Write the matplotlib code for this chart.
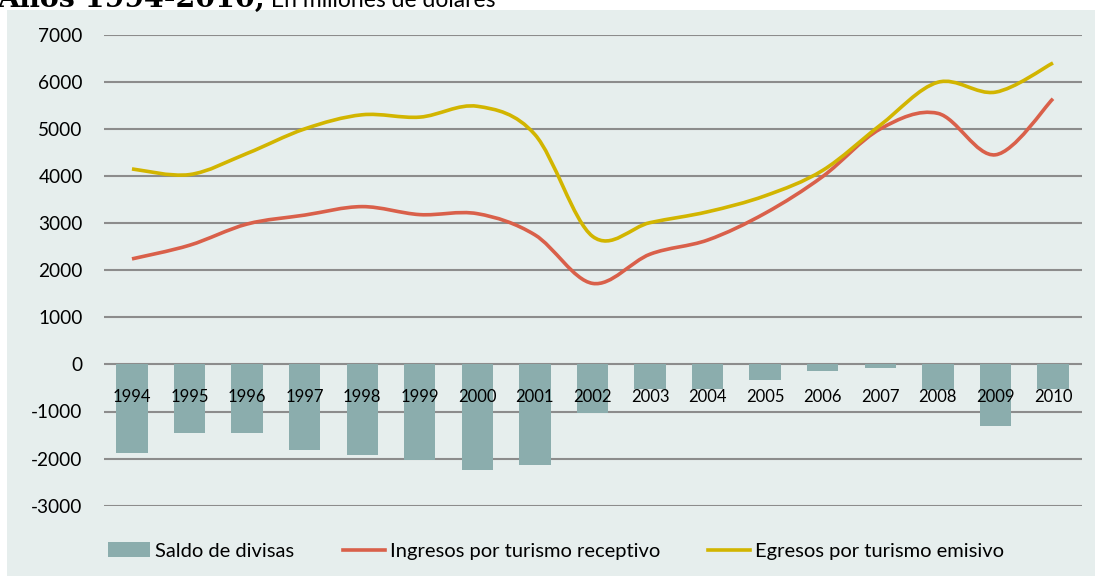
import matplotlib
matplotlib.use("Agg")
import matplotlib.pyplot as plt
from matplotlib.path import Path
from matplotlib.patches import PathPatch, Rectangle, Patch
from matplotlib.lines import Line2D

# ---------------- data ----------------
years = ["1994", "1995", "1996", "1997", "1998", "1999", "2000", "2001", "2002",
         "2003", "2004", "2005", "2006", "2007", "2008", "2009", "2010"]
saldo = [-1890, -1464, -1464, -1812, -1925, -2032, -2246, -2139, -1034,
         -520, -530, -327, -142, -71, -540, -1315, -520]
ingresos = [2240, 2530, 2980, 3170, 3350, 3180, 3200, 2750, 1720,
            2340, 2640, 3210, 3990, 5000, 5330, 4450, 5640]
egresos = [4150, 4030, 4480, 5000, 5300, 5250, 5480, 4880, 2720,
           3010, 3240, 3580, 4120, 5080, 5990, 5780, 6400]
yticks = [-3000, -2000, -1000, 0, 1000, 2000, 3000, 4000, 5000, 6000, 7000]
legend_labels = ["Saldo de divisas", "Ingresos por turismo receptivo",
                 "Egresos por turismo emisivo"]
title_bold = "Años 1994-2010,"
title_rest = " En millones de dólares"

# ---------------- style ----------------
BG = "#E6EEED"
BAR = "#8BADAD"
RED = "#D9604A"
YEL = "#D2B500"
GRID = "#8C8C8C"
FONT = ["Lato", "DejaVu Sans"]
plt.rcParams["font.family"] = FONT

W, H = 1095, 576
fig = plt.figure(figsize=(W / 100, H / 100), dpi=100, facecolor="white")
fig.add_artist(Rectangle((7 / W, 0), 1, 1 - 10 / H, transform=fig.transFigure,
                         facecolor=BG, edgecolor="none", zorder=0))

# title (partially cut at top, as in the reference)
t1 = fig.text(-3 / W, 1 - 6.7 / H, title_bold, family="DejaVu Serif",
              weight="bold", fontsize=20.5, va="baseline", ha="left")
fig.canvas.draw()
bb = t1.get_window_extent()
fig.text(bb.x1 / W, 1 - 6.7 / H, title_rest, fontsize=16.5,
         va="baseline", ha="left", family=FONT)

left, right = 104 / W, 1082 / W
bottom, top = 1 - 505.7 / H, 1 - 34.7 / H
ax = fig.add_axes([left, bottom, right - left, top - bottom])
ax.set_facecolor("none")
x = list(range(len(years)))
ax.set_xlim(-0.486, 16.504)
ax.set_ylim(-3000, 7000)
for s in ax.spines.values():
    s.set_visible(False)
ax.set_yticks(yticks)
ax.set_yticklabels([str(v) for v in yticks])
ax.tick_params(axis="y", length=0, pad=15.3, labelsize=13.7, colors="black")
ax.set_xticks([])
for v in yticks:
    ax.axhline(v, color=GRID, lw=1.5, zorder=1)

ax.bar(x, saldo, width=0.545, color=BAR, zorder=2)

for i, yr in enumerate(years):
    ax.annotate(yr, xy=(i, 0), xytext=(0, -27.1), textcoords="offset points",
                ha="center", va="baseline", fontsize=12, zorder=5)


def smooth_path(xs, ys):
    n = len(xs)
    verts = [(xs[0], ys[0])]
    codes = [Path.MOVETO]
    for i in range(n - 1):
        p0 = (xs[max(i - 1, 0)], ys[max(i - 1, 0)])
        p1 = (xs[i], ys[i])
        p2 = (xs[i + 1], ys[i + 1])
        p3 = (xs[min(i + 2, n - 1)], ys[min(i + 2, n - 1)])
        c1 = (p1[0] + (p2[0] - p0[0]) / 6, p1[1] + (p2[1] - p0[1]) / 6)
        c2 = (p2[0] - (p3[0] - p1[0]) / 6, p2[1] - (p3[1] - p1[1]) / 6)
        verts += [c1, c2, p2]
        codes += [Path.CURVE4] * 3
    return Path(verts, codes)


for series, col in ((ingresos, RED), (egresos, YEL)):
    ax.add_patch(PathPatch(smooth_path(x, series), facecolor="none",
                           edgecolor=col, lw=2.6, zorder=4,
                           capstyle="butt", joinstyle="round"))

handles = [Patch(facecolor=BAR, edgecolor="none"),
           Line2D([], [], color=RED, lw=2.6),
           Line2D([], [], color=YEL, lw=2.6)]
fig.legend(handles, legend_labels, loc="center left",
           bbox_to_anchor=(108 / W, 1 - 551 / H), ncol=3, frameon=False,
           fontsize=14.5, handlelength=2.09, handleheight=0.7,
           handletextpad=0.25, columnspacing=2.4, borderpad=0,
           borderaxespad=0)

fig.savefig("out.png", dpi=100, facecolor="white")
